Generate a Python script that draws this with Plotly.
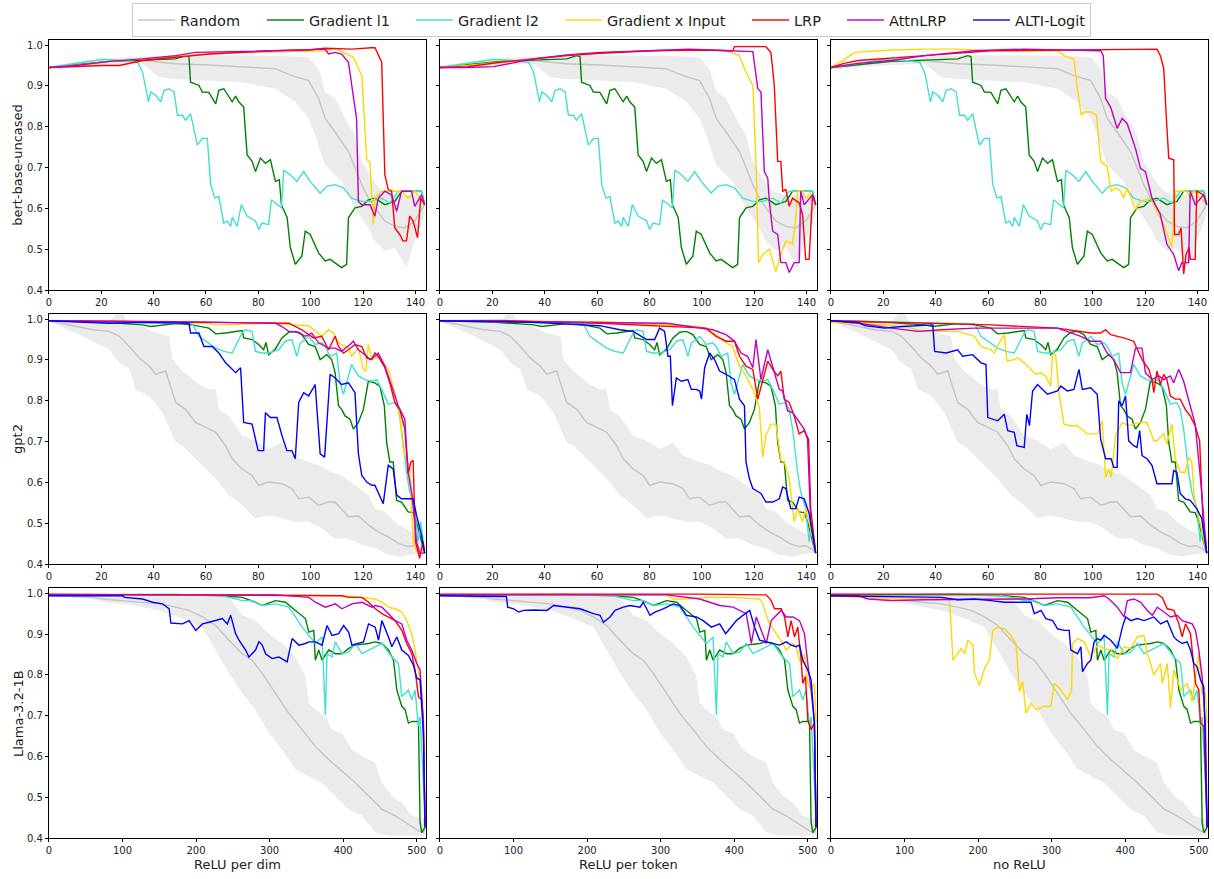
import plotly.graph_objects as go

MODELS = ["bert-base-uncased", "gpt2", "Llama-3.2-1B"]
SETTINGS = ["ReLU per dim", "ReLU per token", "no ReLU"]
METHODS = ["Random", "Gradient l1", "Gradient l2", "Gradient x Input", "LRP", "AttnLRP", "ALTI-Logit"]
COLORS = {"Random": "#c4c4c4", "Gradient l1": "#008000", "Gradient l2": "#40e0d0",
          "Gradient x Input": "#ffd700", "LRP": "#ff0000", "AttnLRP": "#bf00bf", "ALTI-Logit": "#0000ff"}
LEGEND_COLORS = {"Random": "#d3d3d3", "Gradient l1": "#4da64d", "Gradient l2": "#79e9de",
                 "Gradient x Input": "#ffe34d", "LRP": "#ff4d4d", "AttnLRP": "#d24dd2", "ALTI-Logit": "#4d4dff"}
LEGEND_WIDTHS = {"Random": 77, "Gradient l1": 97, "Gradient l2": 97, "Gradient x Input": 135,
                 "LRP": 43, "AttnLRP": 74, "ALTI-Logit": 70}
SMALL_TICKS = [0, 20, 40, 60, 80, 100, 120, 140]
LARGE_TICKS = [0, 100, 200, 300, 400, 500]
Y_TICKS = [0.4, 0.5, 0.6, 0.7, 0.8, 0.9, 1.0]

# ---------------- bert-base-uncased ----------------
BERT_RANDOM = [(0,0.945),(10.4,0.952),(23.1,0.960),(35.8,0.962),(48.4,0.954),(61.1,0.951),(73.8,0.946),(86.5,0.942),(92.8,0.925),(99.2,0.913),(103.0,0.869),(105.5,0.820),(109.3,0.787),(114.4,0.739),(116.9,0.700),(119.5,0.658),(122.0,0.625),(124.5,0.601),(128.3,0.569),(132.1,0.556),(135.9,0.552),(139.7,0.569),(143.5,0.609)]
BERT_RANDOM_UPPER = [(0,0.950),(20,0.965),(35.8,0.972),(50,0.975),(61.1,0.975),(73.8,0.975),(86.5,0.974),(99.2,0.970),(103.0,0.942),(105.5,0.885),(109.3,0.869),(112.5,0.828),(116.9,0.779),(119.5,0.715),(123.3,0.674),(127.1,0.642),(132.1,0.633),(137.2,0.633),(143.5,0.633)]
BERT_RANDOM_LOWER = [(0,0.940),(20,0.950),(35.8,0.954),(42.1,0.921),(48.4,0.917),(61.1,0.913),(73.8,0.909),(86.5,0.893),(94.1,0.861),(99.2,0.820),(101.7,0.779),(105.5,0.706),(111.8,0.666),(116.9,0.601),(122.0,0.552),(124.5,0.520),(128.3,0.496),(132.1,0.504),(136.6,0.455),(139.7,0.520),(143.5,0.585)]
BERT_GL1 = [(0,0.945),(10.4,0.952),(23.1,0.960),(35.8,0.963),(48.4,0.966),(52.2,0.974),(53.5,0.972),(54.1,0.909),(57.3,0.901),(58.6,0.885),(61.1,0.884),(63.7,0.856),(64.9,0.889),(66.8,0.893),(70.0,0.861),(71.3,0.875),(72.5,0.861),(74.4,0.848),(75.7,0.731),(77.6,0.715),(78.9,0.690),(80.8,0.723),(82.7,0.710),(84.6,0.719),(86.5,0.666),(88.0,0.670),(88.8,0.609),(91.0,0.577),(92.2,0.504),(94.1,0.463),(96.6,0.483),(97.9,0.544),(99.8,0.536),(103.0,0.491),(105.5,0.471),(107.4,0.475),(111.8,0.455),(113.7,0.463),(114.4,0.577),(116.9,0.601),(119.5,0.605),(122.0,0.621),(124.5,0.625),(128.3,0.609),(132.1,0.617),(134.7,0.642),(142.3,0.642),(143.5,0.609)]
BERT_GL2 = [(0,0.945),(10.4,0.955),(20.5,0.965),(28.2,0.962),(33.9,0.958),(35.8,0.933),(38.0,0.861),(38.9,0.885),(40.8,0.877),(42.7,0.861),(44.0,0.889),(45.9,0.893),(47.8,0.885),(49.1,0.828),(51.0,0.828),(52.2,0.816),(54.1,0.832),(56.7,0.755),(58.6,0.771),(60.5,0.771),(61.8,0.658),(63.4,0.625),(64.9,0.629),(66.8,0.564),(68.1,0.569),(69.4,0.556),(70.0,0.578),(71.9,0.556),(73.5,0.609),(75.7,0.581),(78.9,0.569),(80.1,0.548),(81.4,0.564),(83.9,0.560),(85.0,0.621),(86.5,0.613),(88.8,0.601),(89.7,0.694),(92.2,0.682),(94.7,0.666),(97.3,0.690),(99.8,0.666),(103.6,0.637),(106.1,0.654),(109.3,0.658),(112.5,0.650),(115.6,0.625),(119.5,0.617),(123.3,0.617),(127.1,0.625),(130.2,0.613),(133.4,0.642),(142.3,0.642),(143.5,0.609)]

BERT_DIM_GXI = [(0,0.945),(10.4,0.950),(23.1,0.960),(35.8,0.966),(48.4,0.972),(61.1,0.978),(80,0.983),(99.2,0.986),(105.5,0.986),(109.3,0.992),(111.8,0.984),(116.3,0.970),(119.5,0.925),(121.4,0.719),(122.6,0.715),(123.9,0.560),(124.5,0.625),(127.1,0.642),(134.7,0.642),(137.2,0.625),(139.7,0.642),(143.5,0.609)]
BERT_DIM_LRP = [(0,0.945),(10.4,0.948),(20.5,0.950),(26.9,0.950),(35.8,0.962),(48.4,0.970),(61.1,0.978),(73.8,0.982),(86.5,0.986),(99.2,0.988),(105.5,0.992),(115.6,0.990),(124.5,0.994),(127.1,0.958),(128.3,0.682),(129.6,0.646),(130.9,0.642),(132.1,0.552),(134.0,0.536),(135.3,0.520),(136.6,0.521),(137.8,0.581),(139.1,0.569),(140.8,0.528),(142.0,0.625),(143.5,0.609)]
BERT_DIM_ATTNLRP = [(0,0.945),(10.4,0.950),(23.1,0.960),(35.8,0.966),(48.4,0.974),(56,0.982),(73.8,0.984),(86.5,0.986),(99.2,0.988),(105.5,0.990),(106.8,0.978),(109.3,0.982),(111.8,0.978),(114.4,0.958),(116.3,0.873),(117.5,0.820),(118.2,0.617),(119.5,0.609),(122.6,0.609),(124.5,0.581),(125.8,0.625),(128.3,0.642),(130.9,0.633),(132.8,0.593),(134.7,0.642),(138.5,0.642),(139.7,0.605),(142.3,0.633),(143.5,0.609)]

BERT_TOK_GXI = [(0,0.945),(10.4,0.950),(23.1,0.958),(35.8,0.966),(48.4,0.974),(61.1,0.980),(80,0.985),(99.2,0.990),(109.3,0.986),(114.4,0.974),(116.3,0.942),(119.5,0.901),(120.7,0.715),(121.7,0.467),(123.3,0.487),(125.8,0.500),(127.1,0.471),(128.3,0.445),(130.2,0.487),(132.1,0.520),(134.7,0.512),(135.9,0.577),(136.6,0.642),(138.5,0.642),(139.7,0.625),(141.6,0.637),(143.5,0.609)]
BERT_TOK_LRP = [(0,0.945),(10.4,0.947),(23.1,0.958),(35.8,0.966),(48.4,0.974),(61.1,0.980),(80,0.986),(99.2,0.988),(111.8,0.986),(112.5,0.996),(124.5,0.996),(126.4,0.982),(127.7,0.901),(129.0,0.715),(130.2,0.715),(130.9,0.642),(132.1,0.646),(133.4,0.605),(134.7,0.625),(137.2,0.613),(138.5,0.585),(139.7,0.475),(141.0,0.475),(142.3,0.633),(143.5,0.609)]
BERT_TOK_ATTNLRP = [(0,0.945),(10.4,0.945),(20.5,0.947),(26.9,0.955),(35.8,0.966),(48.4,0.976),(61.1,0.982),(80,0.986),(95,0.990),(110,0.986),(119.5,0.984),(121.4,0.893),(122.6,0.885),(123.9,0.690),(125.2,0.674),(125.8,0.617),(127.1,0.544),(129.0,0.536),(130.2,0.467),(132.1,0.467),(133.4,0.443),(135.3,0.467),(137.2,0.467),(137.8,0.642),(139.1,0.609),(142.3,0.633),(143.5,0.609)]

BERT_NO_GXI = [(0,0.945),(4,0.960),(9.1,0.982),(23.1,0.988),(35.8,0.990),(48.4,0.990),(61.1,0.986),(86.5,0.986),(89.0,0.974),(92.8,0.966),(94.1,0.893),(95.6,0.828),(96.6,0.836),(99.2,0.836),(101.4,0.828),(103.0,0.715),(105.5,0.702),(107.0,0.642),(108.7,0.650),(110.6,0.642),(111.8,0.625),(113.1,0.650),(116.3,0.597),(118.2,0.617),(122.0,0.625),(124.5,0.593),(127.1,0.560),(130.2,0.504),(131.5,0.642),(135.9,0.642),(137.2,0.625),(138.5,0.642),(143.5,0.609)]
BERT_NO_LRP = [(0,0.945),(5,0.955),(10.4,0.962),(20,0.966),(35.8,0.974),(61.1,0.986),(90,0.988),(124.5,0.990),(125.8,0.974),(127.1,0.942),(128.1,0.820),(129.0,0.723),(130.9,0.719),(131.2,0.536),(132.8,0.536),(133.7,0.552),(134.7,0.439),(135.6,0.487),(136.8,0.504),(137.2,0.475),(139.1,0.475),(139.7,0.642),(142.3,0.633),(143.5,0.609)]
BERT_NO_ATTNLRP = [(0,0.945),(10.4,0.955),(23.1,0.962),(35.8,0.974),(54.8,0.986),(73.8,0.990),(103.0,0.986),(104.0,0.974),(104.9,0.869),(106.8,0.848),(109.3,0.796),(111.2,0.820),(113.1,0.808),(116.3,0.747),(118.2,0.698),(120.1,0.690),(122.6,0.625),(125.8,0.585),(128.3,0.512),(130.9,0.487),(132.8,0.447),(134.0,0.467),(136.6,0.467),(137.2,0.642),(139.1,0.609),(142.3,0.633),(143.5,0.609)]

# ---------------- gpt2 ----------------
GPT2_RANDOM = [(0,0.996),(10.4,0.982),(16.7,0.974),(23.1,0.970),(26.9,0.958),(30.7,0.933),(34.5,0.905),(38.3,0.885),(40.8,0.865),(44.6,0.873),(48.4,0.796),(52.2,0.779),(56.0,0.747),(59.9,0.735),(63.7,0.723),(67.5,0.690),(70.0,0.658),(73.8,0.633),(77.6,0.617),(80.1,0.593),(83.9,0.601),(89.0,0.597),(92.8,0.585),(95.4,0.560),(99.2,0.564),(103.0,0.544),(106.8,0.552),(109.3,0.552),(114.4,0.516),(118.2,0.518),(122.0,0.496),(125.8,0.479),(129.6,0.467),(133.4,0.451),(137.2,0.443),(139.7,0.445),(143.5,0.431)]
GPT2_RANDOM_UPPER = [(0,1.0),(23.1,0.994),(25.6,1.013),(28.2,1.013),(30.7,0.986),(35.8,0.982),(40.8,0.966),(45.9,0.958),(47.2,0.901),(51.0,0.873),(57.3,0.840),(61.1,0.828),(63.7,0.828),(64.9,0.779),(68.7,0.763),(73.8,0.715),(78.9,0.702),(83.9,0.682),(89.0,0.698),(92.8,0.666),(99.2,0.650),(103.0,0.642),(108.0,0.625),(111.8,0.617),(116.9,0.593),(122.0,0.569),(124.5,0.536),(128.3,0.528),(132.1,0.504),(137.2,0.483),(143.5,0.463)]
GPT2_RANDOM_LOWER = [(0,0.994),(10.4,0.966),(16.7,0.946),(23.1,0.925),(26.9,0.893),(30.7,0.877),(33.2,0.828),(38.3,0.812),(43.4,0.771),(48.4,0.698),(51.0,0.690),(53.5,0.674),(58.6,0.642),(63.7,0.609),(68.7,0.569),(73.8,0.544),(78.9,0.512),(83.9,0.520),(89.0,0.512),(94.1,0.504),(99.2,0.504),(104.2,0.487),(109.3,0.463),(114.4,0.463),(119.5,0.447),(124.5,0.439),(129.6,0.423),(134.7,0.418),(137.2,0.423),(143.5,0.427)]
GPT2_GL1 = [(0,0.996),(20,0.993),(35.8,0.986),(38.9,0.982),(48.4,0.989),(54.8,0.986),(61.1,0.978),(63.7,0.964),(67.5,0.966),(71.3,0.970),(73.8,0.972),(74.4,0.954),(77.6,0.950),(80.1,0.938),(82.0,0.925),(82.9,0.943),(83.9,0.913),(86.5,0.927),(89.0,0.954),(91.6,0.968),(94.1,0.970),(96.6,0.962),(99.2,0.938),(101.7,0.933),(103.6,0.901),(106.1,0.913),(108.0,0.901),(109.3,0.869),(110.6,0.788),(111.8,0.779),(113.1,0.763),(115.0,0.755),(116.3,0.731),(118.2,0.747),(120.1,0.779),(122.0,0.848),(124.5,0.844),(126.4,0.836),(128.1,0.788),(129.0,0.698),(130.2,0.650),(131.5,0.650),(132.8,0.556),(134.7,0.552),(137.2,0.528),(139.1,0.526),(140.4,0.504),(142.3,0.455),(143.5,0.427)]
GPT2_GL2 = [(0,0.996),(20,0.993),(48.4,0.990),(54.8,0.989),(57.3,0.958),(59.9,0.946),(63.7,0.929),(66.8,0.921),(70.0,0.917),(73.8,0.966),(75.1,0.974),(77.6,0.970),(78.9,0.921),(81.4,0.917),(83.9,0.917),(87.8,0.925),(90.3,0.946),(92.8,0.950),(94.7,0.909),(96.0,0.942),(97.9,0.950),(99.2,0.958),(101.7,0.938),(104.2,0.942),(105.5,0.933),(107.4,0.909),(109.9,0.917),(111.2,0.844),(112.5,0.816),(113.7,0.844),(115.6,0.889),(118.2,0.861),(120.7,0.852),(123.3,0.848),(125.2,0.852),(127.1,0.828),(129.6,0.792),(132.1,0.796),(133.4,0.779),(134.7,0.731),(136.6,0.625),(137.8,0.577),(139.7,0.536),(141.0,0.455),(142.0,0.504),(143.5,0.427)]

GPT2_DIM_GXI = [(0,0.996),(35.8,0.994),(61.1,0.990),(63.7,0.986),(86.5,0.990),(92.8,0.986),(99.2,0.984),(104.2,0.958),(106.8,0.974),(108.7,0.966),(110.6,0.942),(114.4,0.929),(115.6,0.909),(118.2,0.929),(120.1,0.877),(121.0,0.873),(122.0,0.938),(123.3,0.901),(125.8,0.909),(127.7,0.893),(129.6,0.877),(132.1,0.820),(134.0,0.763),(135.3,0.682),(136.6,0.654),(137.8,0.642),(139.1,0.455),(140.4,0.431),(142.3,0.439),(143.5,0.427)]
GPT2_DIM_LRP = [(0,0.996),(40,0.994),(86.5,0.990),(91.6,0.990),(96.6,0.974),(99.2,0.962),(101.1,0.954),(104.2,0.958),(106.8,0.925),(109.3,0.958),(110.6,0.933),(112.5,0.917),(114.4,0.925),(116.9,0.938),(119.5,0.933),(121.4,0.905),(123.3,0.901),(124.5,0.917),(125.8,0.909),(128.3,0.881),(130.2,0.844),(132.1,0.796),(134.0,0.779),(135.9,0.731),(137.2,0.621),(138.2,0.650),(139.1,0.654),(140.0,0.455),(141.6,0.414),(142.9,0.455),(143.5,0.427)]
GPT2_DIM_ATTNLRP = [(0,0.996),(48.4,0.994),(86.5,0.990),(89.0,0.982),(91.6,0.970),(95.4,0.968),(97.9,0.958),(100.4,0.966),(103.0,0.942),(106.8,0.929),(109.3,0.929),(111.8,0.921),(115.0,0.938),(116.3,0.946),(118.2,0.925),(120.7,0.913),(122.6,0.901),(124.5,0.909),(125.8,0.917),(128.3,0.885),(130.9,0.836),(133.4,0.788),(135.9,0.755),(137.2,0.625),(138.7,0.569),(140.4,0.455),(141.6,0.427),(143.5,0.427)]
GPT2_DIM_ALTI = [(0,0.996),(23.1,0.990),(35.8,0.992),(53.5,0.990),(54.1,0.966),(57.3,0.966),(59.2,0.933),(62.4,0.933),(64.9,0.917),(67.5,0.893),(71.3,0.869),(73.2,0.881),(74.4,0.747),(77.6,0.743),(79.9,0.678),(82.0,0.678),(82.7,0.771),(84.6,0.759),(87.1,0.759),(89.0,0.715),(90.9,0.678),(92.8,0.678),(94.1,0.658),(95.4,0.796),(97.3,0.820),(99.2,0.812),(101.7,0.840),(103.6,0.670),(105.3,0.662),(107.4,0.865),(109.3,0.856),(111.8,0.840),(114.4,0.844),(116.9,0.820),(118.2,0.670),(119.5,0.617),(121.4,0.601),(123.3,0.593),(124.5,0.593),(125.8,0.573),(127.7,0.548),(129.6,0.642),(131.5,0.633),(132.8,0.569),(134.7,0.560),(137.2,0.560),(139.1,0.560),(140.4,0.520),(142.3,0.471),(143.5,0.427)]

GPT2_TOK_GXI = [(0,0.996),(61.1,0.994),(73.8,0.990),(86.5,0.986),(99.2,0.982),(105.5,0.962),(109.3,0.942),(111.8,0.933),(114.4,0.885),(116.9,0.861),(119.5,0.828),(122.0,0.783),(123.3,0.662),(124.5,0.715),(126.4,0.743),(128.3,0.743),(130.2,0.654),(131.5,0.650),(133.4,0.609),(135.3,0.504),(136.6,0.536),(138.5,0.504),(139.7,0.536),(141.0,0.504),(143.5,0.427)]
GPT2_TOK_LRP = [(0,0.996),(23.1,0.997),(61.1,0.990),(86.5,0.982),(101.7,0.978),(105.5,0.958),(109.3,0.946),(112.5,0.946),(114.4,0.909),(116.9,0.885),(119.5,0.877),(121.4,0.804),(123.3,0.852),(125.2,0.897),(127.1,0.877),(129.0,0.861),(130.2,0.873),(131.5,0.804),(133.4,0.796),(135.3,0.763),(137.2,0.719),(139.1,0.727),(140.8,0.706),(141.6,0.536),(143.5,0.427)]
GPT2_TOK_ATTNLRP = [(0,0.996),(86.5,0.990),(104.2,0.974),(109.3,0.962),(112.5,0.946),(115.0,0.917),(117.5,0.909),(119.5,0.881),(120.7,0.950),(122.6,0.852),(125.2,0.925),(127.1,0.885),(129.6,0.828),(130.9,0.824),(132.8,0.775),(134.7,0.771),(137.2,0.747),(139.1,0.731),(140.4,0.706),(141.6,0.504),(143.5,0.427)]
GPT2_TOK_ALTI = [(0,0.996),(35.8,0.992),(61.1,0.984),(68.7,0.974),(73.8,0.970),(78.9,0.950),(82.0,0.950),(83.9,0.978),(85.8,0.970),(87.1,0.909),(88.0,0.909),(88.8,0.788),(90.3,0.856),(92.2,0.848),(94.7,0.852),(96.0,0.828),(97.9,0.828),(99.2,0.824),(99.9,0.804),(101.1,0.881),(103.0,0.917),(104.9,0.901),(106.8,0.873),(109.3,0.865),(112.5,0.852),(114.4,0.804),(116.3,0.788),(116.9,0.650),(118.2,0.609),(119.5,0.585),(122.6,0.573),(124.5,0.552),(127.1,0.552),(129.6,0.560),(130.9,0.589),(132.1,0.585),(134.0,0.536),(135.9,0.536),(137.2,0.564),(139.1,0.560),(141.0,0.524),(143.5,0.427)]

GPT2_NO_GXI = [(0,0.992),(10.4,0.990),(20.5,0.986),(26.9,0.982),(30.7,0.978),(34.5,0.970),(48.4,0.970),(54.8,0.958),(57.3,0.933),(61.1,0.925),(62.4,0.917),(64.3,0.942),(66.2,0.962),(67.2,0.897),(70.0,0.901),(71.3,0.905),(73.8,0.893),(76.3,0.877),(78.2,0.865),(80.1,0.869),(82.0,0.861),(83.9,0.836),(84.6,0.913),(85.8,0.913),(87.1,0.820),(89.0,0.743),(91.6,0.739),(94.1,0.739),(97.9,0.719),(101.7,0.719),(103.6,0.751),(104.9,0.613),(106.1,0.633),(107.0,0.613),(108.7,0.715),(111.2,0.747),(112.5,0.743),(113.7,0.739),(115.6,0.743),(118.2,0.747),(120.7,0.747),(123.3,0.702),(124.5,0.702),(127.1,0.719),(128.3,0.694),(130.2,0.743),(131.5,0.658),(133.4,0.625),(135.3,0.625),(136.6,0.662),(137.8,0.650),(138.7,0.569),(139.7,0.536),(143.5,0.427)]
GPT2_NO_LRP = [(0,0.996),(35.8,0.990),(61.1,0.986),(86.5,0.978),(99.2,0.966),(103.0,0.966),(104.9,0.974),(106.8,0.962),(109.3,0.958),(111.8,0.954),(115.6,0.946),(118.8,0.901),(121.4,0.877),(122.6,0.852),(123.3,0.820),(124.5,0.873),(125.8,0.840),(127.1,0.865),(128.3,0.852),(129.6,0.812),(131.5,0.804),(133.4,0.804),(135.3,0.779),(137.2,0.763),(139.1,0.739),(140.8,0.702),(142.0,0.518),(143.5,0.427)]
GPT2_NO_ATTNLRP = [(0,0.996),(10.4,0.990),(23.1,0.978),(28.2,0.974),(33.2,0.970),(42.1,0.974),(54.8,0.978),(86.5,0.978),(90.3,0.970),(95.4,0.958),(99.2,0.946),(103.0,0.946),(105.5,0.917),(108.0,0.901),(110.6,0.869),(114.4,0.869),(116.3,0.929),(118.8,0.929),(120.1,0.869),(122.6,0.852),(125.2,0.861),(127.1,0.852),(129.6,0.861),(130.9,0.844),(132.8,0.877),(134.7,0.848),(137.2,0.788),(139.1,0.743),(141.0,0.617),(143.5,0.427)]
GPT2_NO_ALTI = [(0,0.996),(10.4,0.992),(12.9,0.984),(20.5,0.978),(26.9,0.982),(38.9,0.986),(39.6,0.921),(44.0,0.917),(48.4,0.925),(50.3,0.909),(54.1,0.913),(57.3,0.893),(59.2,0.889),(59.9,0.759),(63.7,0.751),(66.2,0.767),(67.5,0.727),(70.0,0.723),(71.0,0.690),(73.8,0.686),(74.8,0.767),(75.8,0.739),(77.0,0.824),(78.9,0.840),(82.7,0.816),(86.5,0.824),(87.8,0.836),(90.3,0.824),(92.8,0.828),(94.7,0.877),(96.0,0.828),(99.2,0.832),(101.7,0.816),(103.0,0.706),(104.9,0.658),(107.0,0.658),(108.0,0.637),(109.3,0.637),(109.9,0.800),(111.2,0.788),(112.5,0.812),(113.7,0.702),(115.6,0.690),(116.9,0.686),(117.9,0.727),(118.8,0.666),(120.7,0.658),(122.6,0.642),(124.5,0.597),(127.1,0.597),(130.2,0.597),(130.9,0.629),(132.1,0.625),(133.4,0.573),(135.3,0.560),(137.2,0.556),(139.7,0.536),(141.6,0.512),(143.5,0.427)]

# ---------------- Llama-3.2-1B ----------------
LLAMA_RANDOM = [(0,0.995),(59.6,0.990),(73,0.986),(95.8,0.982),(127.4,0.978),(150,0.974),(172.5,0.966),(190.6,0.958),(208.7,0.942),(226.7,0.921),(244.8,0.885),(262.9,0.852),(276.4,0.836),(290,0.804),(308,0.755),(326.1,0.706),(344.2,0.666),(362.2,0.625),(380.3,0.593),(398.4,0.564),(416.4,0.536),(434.5,0.504),(452.6,0.471),(470.6,0.455),(488.7,0.435),(502.3,0.418),(509,0.414),(511.3,0.427)]
LLAMA_RANDOM_UPPER = [(0,1.0),(82.2,0.998),(172.5,0.994),(217.7,0.994),(244.8,0.990),(262.9,0.946),(280.9,0.933),(299,0.901),(317.1,0.877),(335.1,0.844),(348.7,0.796),(353.2,0.731),(362.2,0.715),(375.8,0.698),(384.8,0.666),(398.4,0.658),(411.9,0.617),(425.5,0.601),(443.5,0.585),(452.6,0.536),(466.1,0.504),(479.7,0.487),(493.2,0.455),(511.3,0.447)]
LLAMA_RANDOM_LOWER = [(0,0.994),(59.6,0.986),(73,0.978),(104.8,0.974),(150,0.958),(181.6,0.938),(208.7,0.917),(226.7,0.861),(244.8,0.804),(262.9,0.755),(280.9,0.715),(299,0.658),(317.1,0.617),(335.1,0.569),(353.2,0.552),(371.3,0.536),(389.3,0.504),(407.4,0.471),(425.5,0.455),(443.5,0.414),(461.6,0.406),(479.7,0.406),(511.3,0.406)]
LLAMA_GL1 = [(0,0.996),(82.2,0.997),(172.5,0.997),(235.8,0.994),(262.9,0.990),(280.9,0.978),(290,0.970),(308,0.982),(321.6,0.978),(335.1,0.958),(348.7,0.938),(353.2,0.905),(360,0.909),(362.2,0.836),(366.8,0.861),(371.3,0.836),(380.3,0.861),(389.3,0.852),(398.4,0.852),(407.4,0.865),(416.4,0.873),(434.5,0.877),(443.5,0.881),(452.6,0.877),(461.6,0.861),(468.4,0.836),(472.9,0.763),(479.7,0.723),(484.2,0.715),(488.7,0.682),(493.2,0.686),(502.3,0.686),(504.5,0.439),(506.8,0.414),(511.3,0.427)]
LLAMA_GL2 = [(0,0.994),(127.4,0.996),(226.7,0.996),(244.8,0.990),(262.9,0.982),(276.4,0.982),(290,0.970),(308,0.974),(326.1,0.966),(335.1,0.942),(344.2,0.917),(353.2,0.897),(362.2,0.877),(371.3,0.893),(375.8,0.702),(378,0.852),(384.8,0.844),(389.3,0.881),(398.4,0.852),(407.4,0.856),(416.4,0.877),(425.5,0.852),(439,0.865),(452.6,0.877),(466.1,0.844),(475.2,0.828),(479.7,0.747),(488.7,0.763),(493.2,0.739),(497.7,0.763),(502.3,0.674),(504.5,0.698),(509,0.536),(511.3,0.427)]

LLAMA_DIM_GXI = [(0,0.996),(308,0.996),(398.4,0.994),(443.5,0.986),(452.6,0.978),(461.6,0.966),(470.6,0.962),(479.7,0.954),(486.4,0.933),(493.2,0.901),(497.7,0.861),(502.3,0.812),(506.8,0.755),(509,0.682),(511.3,0.427)]
LLAMA_DIM_LRP = [(0,0.998),(398.4,0.994),(407.4,0.990),(425.5,0.990),(434.5,0.978),(443.5,0.962),(452.6,0.950),(461.6,0.942),(470.6,0.933),(479.7,0.909),(486.4,0.877),(493.2,0.852),(497.7,0.812),(502.3,0.747),(506.8,0.739),(509,0.682),(511.3,0.427)]
LLAMA_DIM_ATTNLRP = [(0,0.996),(308,0.996),(353.2,0.990),(362.2,0.978),(375.8,0.966),(389.3,0.974),(398.4,0.962),(411.9,0.974),(425.5,0.978),(439,0.966),(443.5,0.970),(452.6,0.966),(461.6,0.950),(470.6,0.933),(479.7,0.925),(486.4,0.885),(493.2,0.861),(500,0.828),(504.5,0.812),(509,0.682),(511.3,0.427)]
LLAMA_DIM_ALTI = [(0,0.994),(100.3,0.994),(102.5,0.990),(127.4,0.986),(140.9,0.978),(154.5,0.974),(163.5,0.962),(165.8,0.927),(181.6,0.925),(190.6,0.933),(199.6,0.909),(208.7,0.925),(217.7,0.929),(226.7,0.933),(235.8,0.938),(242.5,0.925),(247.1,0.946),(253.8,0.901),(258.4,0.885),(267.4,0.861),(271.9,0.844),(280.9,0.861),(285.5,0.881),(290,0.873),(294.5,0.852),(303.5,0.840),(312.6,0.844),(323.8,0.832),(330.6,0.889),(339.7,0.873),(348.7,0.877),(353.2,0.881),(362.2,0.881),(371.3,0.873),(378,0.921),(384.8,0.897),(393.9,0.901),(400.6,0.921),(407.4,0.905),(411.9,0.873),(421,0.877),(427.7,0.881),(434.5,0.925),(443.5,0.917),(448.1,0.885),(452.6,0.933),(461.6,0.893),(466.1,0.869),(472.9,0.893),(479.7,0.861),(488.7,0.848),(495.5,0.824),(500,0.792),(504.5,0.788),(509,0.658),(511.3,0.427)]

LLAMA_TOK_GXI = [(0,0.996),(308,0.996),(317.1,0.986),(335.1,0.986),(362.2,0.990),(398.4,0.990),(434.5,0.986),(439,0.974),(443.5,0.946),(448.1,0.925),(457.1,0.901),(466.1,0.877),(470.6,0.861),(479.7,0.877),(484.2,0.869),(488.7,0.836),(493.2,0.828),(495.5,0.852),(500,0.779),(504.5,0.763),(509,0.779),(511.3,0.682)]
LLAMA_TOK_LRP = [(0,0.998),(353.2,0.998),(443.5,0.996),(450.3,0.982),(454.8,0.962),(463.9,0.962),(468.4,0.942),(472.9,0.893),(477.4,0.933),(481.9,0.893),(486.4,0.917),(491,0.836),(493.2,0.779),(496.8,0.796),(500,0.690),(504.5,0.666),(509,0.682),(511.3,0.427)]
LLAMA_TOK_ATTNLRP = [(0,0.996),(308,0.996),(353.2,0.986),(380.3,0.970),(398.4,0.966),(407.4,0.958),(416.4,0.950),(423.2,0.877),(430,0.942),(436.8,0.909),(443.5,0.877),(450.3,0.933),(457.1,0.946),(463.9,0.958),(470.6,0.942),(479.7,0.942),(488.7,0.933),(495.5,0.901),(500,0.828),(504.5,0.763),(509,0.682),(511.3,0.427)]
LLAMA_TOK_ALTI = [(0,0.994),(82.2,0.993),(90.3,0.992),(92.1,0.966),(100.3,0.962),(107,0.954),(113.8,0.958),(127.4,0.959),(145.4,0.958),(154.5,0.970),(172.5,0.966),(190.6,0.962),(208.7,0.950),(217.7,0.946),(222.2,0.929),(231.3,0.942),(238,0.958),(249.3,0.966),(258.4,0.970),(271.9,0.966),(276.4,0.978),(285.5,0.946),(292.2,0.954),(303.5,0.962),(317.1,0.974),(326.1,0.970),(335.1,0.946),(348.7,0.942),(357.7,0.933),(369,0.917),(380.3,0.925),(388.4,0.901),(393.9,0.913),(402.9,0.933),(411.9,0.946),(421,0.958),(427.7,0.917),(434.5,0.885),(443.5,0.881),(452.6,0.877),(461.6,0.873),(470.6,0.881),(477.4,0.873),(484.2,0.869),(488.7,0.873),(493.2,0.836),(500,0.812),(504.5,0.788),(509,0.682),(511.3,0.427)]

LLAMA_NO_GXI = [(0,0.994),(37,0.990),(82.2,0.986),(127.4,0.986),(161.2,0.986),(165.8,0.836),(172.5,0.852),(177,0.865),(181.6,0.852),(186.1,0.885),(192.9,0.873),(195.1,0.804),(201.9,0.775),(208.7,0.816),(215.4,0.836),(220,0.909),(226.7,0.917),(235.8,0.913),(242.5,0.901),(251.6,0.877),(256.1,0.759),(260.6,0.783),(265.1,0.706),(271.9,0.731),(278.7,0.715),(290,0.723),(299,0.723),(303.5,0.779),(312.6,0.763),(321.6,0.739),(327,0.763),(328.4,0.877),(335.1,0.889),(344.2,0.881),(353.2,0.844),(362.2,0.873),(371.3,0.865),(380.3,0.861),(389.3,0.840),(398.4,0.869),(407.4,0.865),(416.4,0.893),(425.5,0.897),(430,0.852),(439,0.800),(448.1,0.828),(450.3,0.779),(457.1,0.828),(461.6,0.719),(466.1,0.812),(470.6,0.788),(475.2,0.763),(484.2,0.779),(491,0.735),(495.5,0.796),(500,0.852),(504.5,0.755),(509,0.755),(511.3,0.682)]
LLAMA_NO_LRP = [(0,0.998),(443.5,0.998),(450.3,0.990),(457.1,0.962),(466.1,0.958),(472.9,0.925),(477.4,0.893),(481.9,0.925),(488.7,0.901),(493.2,0.828),(495.5,0.779),(500,0.763),(502.3,0.682),(506.8,0.674),(511.3,0.427)]
LLAMA_NO_ATTNLRP = [(0,0.994),(37,0.994),(50.6,0.986),(82.2,0.982),(127.4,0.984),(217.7,0.986),(262.9,0.986),(308,0.989),(353.2,0.989),(371.3,0.994),(378,0.986),(389.3,0.966),(398.4,0.942),(402.9,0.982),(411.9,0.986),(421,0.978),(430,0.958),(436.8,0.946),(443.5,0.966),(452.6,0.954),(461.6,0.942),(470.6,0.946),(477.4,0.933),(484.2,0.929),(491,0.925),(495.5,0.909),(500,0.861),(504.5,0.796),(509,0.682),(511.3,0.427)]
LLAMA_NO_ALTI = [(0,0.994),(82.2,0.992),(127.4,0.992),(150,0.990),(172.5,0.984),(195.1,0.986),(217.7,0.982),(235.8,0.978),(253.8,0.978),(271.9,0.978),(276.4,0.950),(285.5,0.958),(292.2,0.938),(301.3,0.933),(308,0.913),(317.1,0.909),(323.8,0.909),(326.1,0.861),(335.1,0.852),(339.7,0.869),(341.9,0.808),(348.7,0.828),(353.2,0.836),(357.7,0.881),(362.2,0.889),(366.8,0.885),(371.3,0.897),(380.3,0.885),(389.3,0.865),(396.1,0.917),(400.6,0.942),(407.4,0.933),(416.4,0.938),(425.5,0.933),(439,0.942),(448.1,0.925),(457.1,0.933),(466.1,0.893),(470.6,0.885),(477.4,0.877),(484.2,0.881),(488.7,0.861),(493.2,0.828),(497.7,0.820),(502.3,0.788),(506.8,0.771),(511.3,0.427)]

SHARED = {
    "bert-base-uncased": (BERT_RANDOM, BERT_RANDOM_UPPER, BERT_RANDOM_LOWER, BERT_GL1, BERT_GL2),
    "gpt2": (GPT2_RANDOM, GPT2_RANDOM_UPPER, GPT2_RANDOM_LOWER, GPT2_GL1, GPT2_GL2),
    "Llama-3.2-1B": (LLAMA_RANDOM, LLAMA_RANDOM_UPPER, LLAMA_RANDOM_LOWER, LLAMA_GL1, LLAMA_GL2),
}
PER_SETTING = {
    ("bert-base-uncased", "ReLU per dim"): (BERT_DIM_GXI, BERT_DIM_LRP, BERT_DIM_ATTNLRP, None),
    ("bert-base-uncased", "ReLU per token"): (BERT_TOK_GXI, BERT_TOK_LRP, BERT_TOK_ATTNLRP, None),
    ("bert-base-uncased", "no ReLU"): (BERT_NO_GXI, BERT_NO_LRP, BERT_NO_ATTNLRP, None),
    ("gpt2", "ReLU per dim"): (GPT2_DIM_GXI, GPT2_DIM_LRP, GPT2_DIM_ATTNLRP, GPT2_DIM_ALTI),
    ("gpt2", "ReLU per token"): (GPT2_TOK_GXI, GPT2_TOK_LRP, GPT2_TOK_ATTNLRP, GPT2_TOK_ALTI),
    ("gpt2", "no ReLU"): (GPT2_NO_GXI, GPT2_NO_LRP, GPT2_NO_ATTNLRP, GPT2_NO_ALTI),
    ("Llama-3.2-1B", "ReLU per dim"): (LLAMA_DIM_GXI, LLAMA_DIM_LRP, LLAMA_DIM_ATTNLRP, LLAMA_DIM_ALTI),
    ("Llama-3.2-1B", "ReLU per token"): (LLAMA_TOK_GXI, LLAMA_TOK_LRP, LLAMA_TOK_ATTNLRP, LLAMA_TOK_ALTI),
    ("Llama-3.2-1B", "no ReLU"): (LLAMA_NO_GXI, LLAMA_NO_LRP, LLAMA_NO_ATTNLRP, LLAMA_NO_ALTI),
}

W, H = 1214, 879
COL_DOM = [(46 / W, 424 / W), (438 / W, 816 / W), (830 / W, 1208 / W)]
ROW_DOM = [(1 - 292 / H, 1 - 40 / H), (1 - 568 / H, 1 - 316 / H), (1 - 844 / H, 1 - 592 / H)]
FONT = "DejaVu Sans"

fig = go.Figure()
layout = {}

for r, model in enumerate(MODELS):
    rnd, up, lo, gl1, gl2 = SHARED[model]
    for c, setting in enumerate(SETTINGS):
        k = r * 3 + c + 1
        xa = "x" if k == 1 else f"x{k}"
        ya = "y" if k == 1 else f"y{k}"
        gxi, lrp, attn, alti = PER_SETTING[(model, setting)]
        fig.add_trace(go.Scatter(
            x=[p[0] for p in up] + [p[0] for p in reversed(lo)],
            y=[p[1] for p in up] + [p[1] for p in reversed(lo)],
            fill="toself", fillcolor="rgba(190,190,190,0.3)", line=dict(width=0),
            mode="lines", showlegend=False, hoverinfo="skip", xaxis=xa, yaxis=ya))
        series = [("Random", rnd), ("Gradient l1", gl1), ("Gradient l2", gl2),
                  ("Gradient x Input", gxi), ("LRP", lrp), ("AttnLRP", attn), ("ALTI-Logit", alti)]
        for name, pts in series:
            if pts is None:
                continue
            fig.add_trace(go.Scatter(
                x=[p[0] for p in pts], y=[p[1] for p in pts], mode="lines", name=name,
                line=dict(color=COLORS[name], width=1.4), legendgroup=name,
                showlegend=False, xaxis=xa, yaxis=ya))
        is_llama = model == "Llama-3.2-1B"
        layout["xaxis" if k == 1 else f"xaxis{k}"] = dict(
            domain=COL_DOM[c], anchor=ya, range=[0, 512.5 if is_llama else 144],
            tickvals=LARGE_TICKS if is_llama else SMALL_TICKS,
            ticks="outside", ticklen=3, tickwidth=1, tickcolor="black",
            showline=True, linecolor="black", linewidth=1, mirror=True,
            showgrid=False, zeroline=False, tickfont=dict(size=10, color="#222", family=FONT))
        layout["yaxis" if k == 1 else f"yaxis{k}"] = dict(
            domain=ROW_DOM[r], anchor=xa, range=[0.4, 1.013], tickvals=Y_TICKS,
            tickformat=".1f", showticklabels=(c == 0),
            ticks="outside", ticklen=3, tickwidth=1, tickcolor="black",
            showline=True, linecolor="black", linewidth=1, mirror=True,
            showgrid=False, zeroline=False, tickfont=dict(size=10, color="#222", family=FONT))

# legend entries (lighter handles like the reference legend)
for name in METHODS:
    fig.add_trace(go.Scatter(
        x=[None], y=[None], mode="lines", name=name, legendgroup=name,
        line=dict(color=LEGEND_COLORS[name], width=2), legendwidth=LEGEND_WIDTHS[name],
        showlegend=True, xaxis="x", yaxis="y", hoverinfo="skip"))

annotations = []
for r, model in enumerate(MODELS):
    annotations.append(dict(text=model, x=15 / W, y=(ROW_DOM[r][0] + ROW_DOM[r][1]) / 2,
                            xref="paper", yref="paper", textangle=-90, showarrow=False,
                            xanchor="center", yanchor="middle",
                            font=dict(size=13, color="#222", family=FONT)))
for c, setting in enumerate(SETTINGS):
    annotations.append(dict(text=setting, x=(COL_DOM[c][0] + COL_DOM[c][1]) / 2, y=1 - 870 / H,
                            xref="paper", yref="paper", showarrow=False,
                            xanchor="center", yanchor="middle",
                            font=dict(size=13, color="#222", family=FONT)))

fig.update_layout(
    width=W, height=H, margin=dict(l=0, r=0, t=0, b=0),
    paper_bgcolor="white", plot_bgcolor="white",
    font=dict(family=FONT, color="#222"),
    showlegend=True,
    legend=dict(orientation="h", x=610 / W, xanchor="center", y=1 - 3 / H, yanchor="top",
                bordercolor="#cccccc", borderwidth=1, bgcolor="white",
                font=dict(size=14.5, family=FONT, color="#222"), itemwidth=37,
                traceorder="normal"),
    annotations=annotations,
    **layout,
)

fig.write_html("out.html", config={"displayModeBar": False},
               post_script="document.body.style.margin='0';document.body.style.overflow='hidden';")
